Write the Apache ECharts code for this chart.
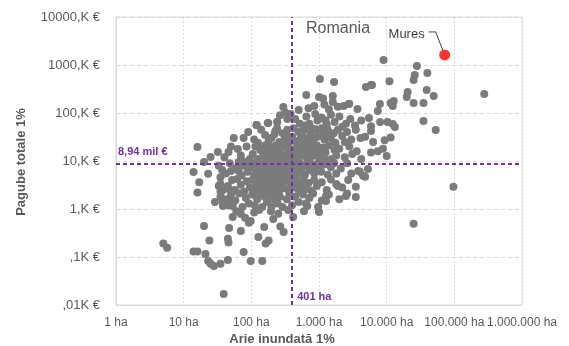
<!DOCTYPE html>
<html>
<head>
<meta charset="utf-8">
<script src="https://cdn.jsdelivr.net/npm/echarts@6/dist/echarts.min.js"></script>
<style>
  html, body { margin: 0; padding: 0; background: #ffffff; }
  #chart { width: 569px; height: 346px; }
</style>
</head>
<body>
<div id="chart"></div>
<script>
// Flooded area (ha) vs. total damage (K €) for the 1% flood, per basin
const xTickLabels = ['1 ha', '10 ha', '100 ha', '1.000 ha', '10.000 ha', '100.000 ha', '1.000.000 ha'];
const yTickLabels = [',01K €', ',1K €', '1,K €', '10,K €', '100,K €', '1000,K €', '10000,K €'];

const medianArea = 401;      // ha
const medianDamage = 8.94;   // K €
const medianAreaLabel = '401 ha';
const medianDamageLabel = '8,94 mil €';

const highlightName = 'Mures';
const highlightPoint = [72000, 1620];

// Scattered basins away from the main cluster
const outerBasins = [
  [5, 0.19], [5.7, 0.155], [14, 5.9], [17, 3.6], [16, 2.2], [14, 0.13], [16, 0.13],
  [29, 1.4], [20, 0.44], [21, 0.115], [23, 0.083], [25, 0.072], [28, 0.065], [35, 0.072],
  [45, 0.087], [24, 0.22], [45, 0.24], [46, 0.2], [47, 0.4], [53, 0.68], [77, 0.127],
  [98, 0.083], [145, 0.083], [39, 0.017], [70, 0.35], [127, 0.26], [163, 0.19], [180, 0.22],
  [155, 0.42], [98, 0.56], [70, 0.79], [81, 0.66], [92, 0.52], [35, 4.6], [35, 3.3],
  [37, 2.4], [35, 1.8], [38, 1.4], [300, 0.33], [211, 0.62], [268, 0.43], [415, 0.68],
  [1000, 0.87], [970, 1.1], [672, 1.15], [1270, 1.87], [1270, 1.47], [2500, 1.87],
  [3500, 1.78], [3500, 2.9], [4470, 4.9], [4800, 4.7], [3800, 6.2], [5300, 6.8],
  [25000, 0.49], [97000, 2.9], [1900, 3.0],
  [1030, 510], [1670, 440], [4940, 348], [6070, 383], [9000, 1270], [11000, 460],
  [28000, 950], [26000, 620], [25000, 485], [40000, 680], [20400, 274], [19800, 215],
  [39000, 300], [49500, 226], [25000, 162], [35000, 162], [5870, 383], [7950, 154],
  [7400, 110], [11450, 162], [12700, 178], [12300, 140], [10300, 65], [12300, 59],
  [13200, 51], [35000, 68], [53000, 44], [5870, 42], [6300, 25], [7400, 16], [5870, 15],
  [9350, 27], [11450, 31], [8800, 18], [10000, 12.7], [277000, 250], [4800, 32],
  [5470, 79], [5870, 53], [8000, 65],
  [650, 237], [1000, 215], [1150, 200], [1600, 226], [1600, 170], [2770, 154],
  [2320, 140], [3700, 121], [1200, 150], [1900, 135], [2800, 155], [1400, 120],
  [850, 140], [700, 125], [500, 115],
  [16, 19.5], [32, 15.4], [63, 17.8], [55, 30], [77, 30], [119, 56], [178, 62],
  [242, 65], [297, 133], [318, 102], [340, 75], [445, 75], [226, 42], [20, 9.5],
  [25, 12.1], [23, 5.4], [46, 15.4], [74, 10], [50, 6.2], [63, 7.4], [65, 6.2],
  [46, 2.6], [50, 1.6], [53, 1.15], [33, 3], [35, 2.3], [38, 1.15], [42, 1.6]
];

// Main cluster, 40 ha – 5.000 ha and 0,5 – 100 K €
const coreBasins = [
  // 50 – 100 K €
  [120, 56], [175, 62], [240, 66], [265, 90], [380, 95], [520, 60],
  [650, 85], [720, 60], [880, 95], [610, 55], [950, 70], [1100, 80], [1300, 58],
  [1500, 92], [1700, 65], [1250, 70], [2000, 85], [2500, 60], [2900, 75], [2200, 52],
  [4200, 70], [3400, 55],
  // 22 – 50 K €
  [90, 40], [110, 28], [140, 45], [160, 35], [125, 24], [200, 30], [260, 25],
  [290, 38], [240, 48], [310, 28], [340, 45], [400, 32], [450, 26], [500, 40],
  [360, 24], [420, 48], [540, 30], [480, 23], [600, 45], [680, 30], [750, 38],
  [820, 25], [900, 46], [950, 32], [640, 24], [780, 48], [1050, 35], [1200, 28],
  [1350, 44], [1500, 30], [1650, 38], [1100, 48], [1750, 24], [1900, 45], [2200, 33],
  [2600, 40], [3000, 28], [2400, 25], [3500, 45], [4100, 30],
  [180, 26], [220, 36], [330, 34], [560, 38], [870, 30], [1300, 36],
  // 10 – 22 K €
  [40, 12], [50, 20], [70, 13], [85, 20], [95, 11], [105, 14], [115, 20], [125, 11],
  [135, 17], [150, 13], [160, 21], [170, 10.5], [145, 18], [185, 12], [200, 19],
  [215, 15], [230, 21], [245, 11], [260, 16], [280, 13], [300, 20], [320, 11],
  [195, 16], [330, 14], [350, 21], [380, 12], [410, 17], [440, 10.5], [470, 19],
  [500, 14], [530, 21], [360, 17], [490, 11], [580, 13], [620, 20], [680, 16],
  [730, 11], [790, 18], [860, 13], [930, 21], [980, 15], [700, 22], [1050, 12],
  [1150, 19], [1250, 15], [1400, 21], [1550, 11], [1700, 17], [1300, 10.5], [1800, 13],
  [2000, 18], [2400, 12], [2800, 20], [3100, 14], [3600, 16], [4200, 11],
  [160, 15], [235, 13], [270, 19], [390, 15], [450, 13], [560, 17], [650, 12],
  [760, 14], [900, 17], [1120, 15],
  // 4,6 – 10 K €
  [33, 8], [42, 5.5], [48, 9], [37, 6.5], [58, 7], [65, 9.5], [72, 5], [80, 8],
  [88, 6], [96, 9], [102, 7.5], [110, 5], [118, 9], [126, 6], [135, 8.5], [143, 5.2],
  [152, 7], [160, 9.6], [168, 5.8], [176, 8], [185, 6], [195, 9], [205, 4.8],
  [215, 7.5], [228, 9.8], [240, 5.5], [255, 8], [270, 6.3], [285, 9], [300, 5],
  [315, 7], [250, 4.7], [330, 8.5], [350, 5.5], [375, 9.5], [400, 6.5], [430, 8],
  [460, 5], [490, 7], [520, 9], [545, 6], [410, 4.7], [580, 8], [620, 5.2], [670, 9.2],
  [720, 6.5], [780, 8.6], [850, 5.5], [920, 7.5], [990, 9.5], [1080, 6], [1200, 8.5],
  [1350, 5.2], [1500, 7.4], [1680, 9], [1800, 5.5], [2100, 7], [2600, 9], [3000, 5.5],
  [4000, 6],
  [115, 6.8], [140, 7], [190, 7.2], [225, 6], [265, 8.5], [330, 6], [370, 7.5],
  [440, 6.3], [560, 7.2], [690, 7.8], [820, 7], [1000, 8],
  // 2,2 – 4,6 K €
  [45, 3], [52, 4], [57, 2.5], [62, 4.2], [70, 3.2], [78, 2.3], [86, 3.8], [95, 2.8],
  [104, 4], [112, 2.6], [120, 3.4], [128, 4.4], [136, 2.4], [145, 3.6], [155, 2.9],
  [163, 4.2], [172, 2.3], [178, 3.3], [186, 4.3], [195, 2.6], [208, 3.6], [220, 2.3],
  [232, 4], [245, 3], [260, 2.4], [275, 4.4], [290, 3.3], [310, 2.7], [330, 4],
  [355, 2.5], [380, 3.5], [410, 4.4], [440, 2.8], [470, 3.8], [505, 2.3], [540, 3.2],
  [590, 4.2], [640, 2.6], [700, 3.5], [770, 2.4], [850, 4], [930, 3], [1100, 3.6],
  [1300, 2.5], [1500, 4.1], [1800, 3.3], [2200, 2.8], [2700, 4],
  [130, 3.1], [165, 3.5], [200, 3.2], [255, 3.6], [300, 4.1], [400, 2.9],
  // 1 – 2,2 K €
  [45, 1.2], [50, 2], [58, 1.5], [66, 2.1], [74, 1.1], [83, 1.7], [92, 1.3],
  [103, 2], [112, 1.2], [122, 1.6], [133, 2.1], [145, 1.1], [157, 1.8], [170, 1.4],
  [185, 2], [198, 1.1], [212, 1.6], [228, 2.2], [245, 1.3], [265, 1.8], [290, 1.1],
  [335, 1.6], [365, 2.1], [400, 1.2], [445, 1.8], [500, 1.4], [580, 2], [640, 1.3],
  [720, 1.7], [820, 2.1], [1100, 1.5], [1400, 2], [2000, 1.6], [2600, 2.1],
  // 0,5 – 1 K €
  [60, 0.9], [110, 0.85], [130, 0.95], [195, 0.9], [250, 0.8], [350, 0.95], [600, 0.9]
];

const FONT = '"Liberation Sans", Arial, sans-serif';
const GREY_TEXT = '#595959';
const PURPLE = '#7030a0';
const GRID_LINE = '#d9d9d9';

const chart = echarts.init(document.getElementById('chart'));

const option = {
  animation: false,
  backgroundColor: '#ffffff',
  grid: {
    left: 116, right: 47, top: 17, bottom: 41,
    show: true, borderColor: GRID_LINE, borderWidth: 1
  },
  xAxis: {
    type: 'log', logBase: 10, min: 1, max: 1000000, splitNumber: 6,
    axisLine: { show: true, lineStyle: { color: GRID_LINE } },
    axisTick: { show: false },
    axisLabel: {
      color: GREY_TEXT, fontFamily: FONT, fontSize: 12, margin: 12,
      interval: 0, showMinLabel: true, showMaxLabel: true, hideOverlap: false,
      formatter: v => xTickLabels[Math.round(Math.log10(v))]
    },
    splitLine: { show: true, lineStyle: { color: GRID_LINE, type: [2, 2] } }
  },
  yAxis: {
    type: 'log', logBase: 10, min: 0.01, max: 10000, splitNumber: 6,
    axisLine: { show: true, lineStyle: { color: GRID_LINE } },
    axisTick: { show: false },
    axisLabel: {
      color: GREY_TEXT, fontFamily: FONT, fontSize: 13, margin: 16,
      formatter: v => yTickLabels[Math.round(Math.log10(v)) + 2]
    },
    splitLine: { show: true, lineStyle: { color: GRID_LINE, type: [4, 3] } }
  },
  series: [
    {
      type: 'scatter',
      name: 'Bazine',
      data: coreBasins.concat(outerBasins),
      symbolSize: 8,
      itemStyle: { color: '#7b7b7b', opacity: 1 },
      z: 3,
      markLine: {
        silent: true,
        symbol: 'none',
        label: { show: false },
        lineStyle: { color: PURPLE, width: 2, type: [4, 3] },
        data: [{ xAxis: medianArea }, { yAxis: medianDamage }]
      }
    },
    {
      type: 'scatter',
      name: highlightName,
      data: [highlightPoint],
      symbolSize: 11,
      itemStyle: { color: '#ff0000' },
      z: 4
    }
  ]
};

chart.setOption(option);

// Annotations placed from the axes' own scales
const hLine = chart.convertToPixel({ gridIndex: 0 }, [1, medianDamage]);
const vLine = chart.convertToPixel({ gridIndex: 0 }, [medianArea, 0.01]);
const hp = chart.convertToPixel({ gridIndex: 0 }, highlightPoint);

function label(text, x, y, font, fill, align, vAlign) {
  return {
    type: 'text', silent: true,
    style: {
      text: text, x: x, y: y, font: font, fill: fill,
      align: align, textAlign: align,
      verticalAlign: vAlign, textVerticalAlign: vAlign
    }
  };
}

chart.setOption({
  graphic: [
    label('Romania', 306, 29, '16px ' + FONT, GREY_TEXT, 'left', 'middle'),
    label(medianDamageLabel, hLine[0] + 2, hLine[1] - 11, 'bold 11px ' + FONT, PURPLE, 'left', 'middle'),
    label(medianAreaLabel, vLine[0] + 5, vLine[1] - 8, 'bold 11px ' + FONT, PURPLE, 'left', 'middle'),
    label(highlightName, hp[0] - 20, hp[1] - 21, '13px ' + FONT, '#404040', 'right', 'middle'),
    {
      type: 'polyline', silent: true,
      shape: { points: [[hp[0] - 16, hp[1] - 23], [hp[0] - 9, hp[1] - 23], [hp[0] - 2, hp[1] - 5]] },
      style: { stroke: '#404040', lineWidth: 1, fill: null }
    },
    label('Arie inundată 1%', 282, 339, 'bold 13px ' + FONT, GREY_TEXT, 'center', 'middle'),
    {
      type: 'text', silent: true,
      x: 21, y: 162, rotation: Math.PI / 2,
      style: {
        text: 'Pagube totale 1%', x: 0, y: 0, font: 'bold 13px ' + FONT, fill: GREY_TEXT,
        align: 'center', textAlign: 'center', verticalAlign: 'middle', textVerticalAlign: 'middle'
      }
    }
  ]
});
</script>
</body>
</html>
